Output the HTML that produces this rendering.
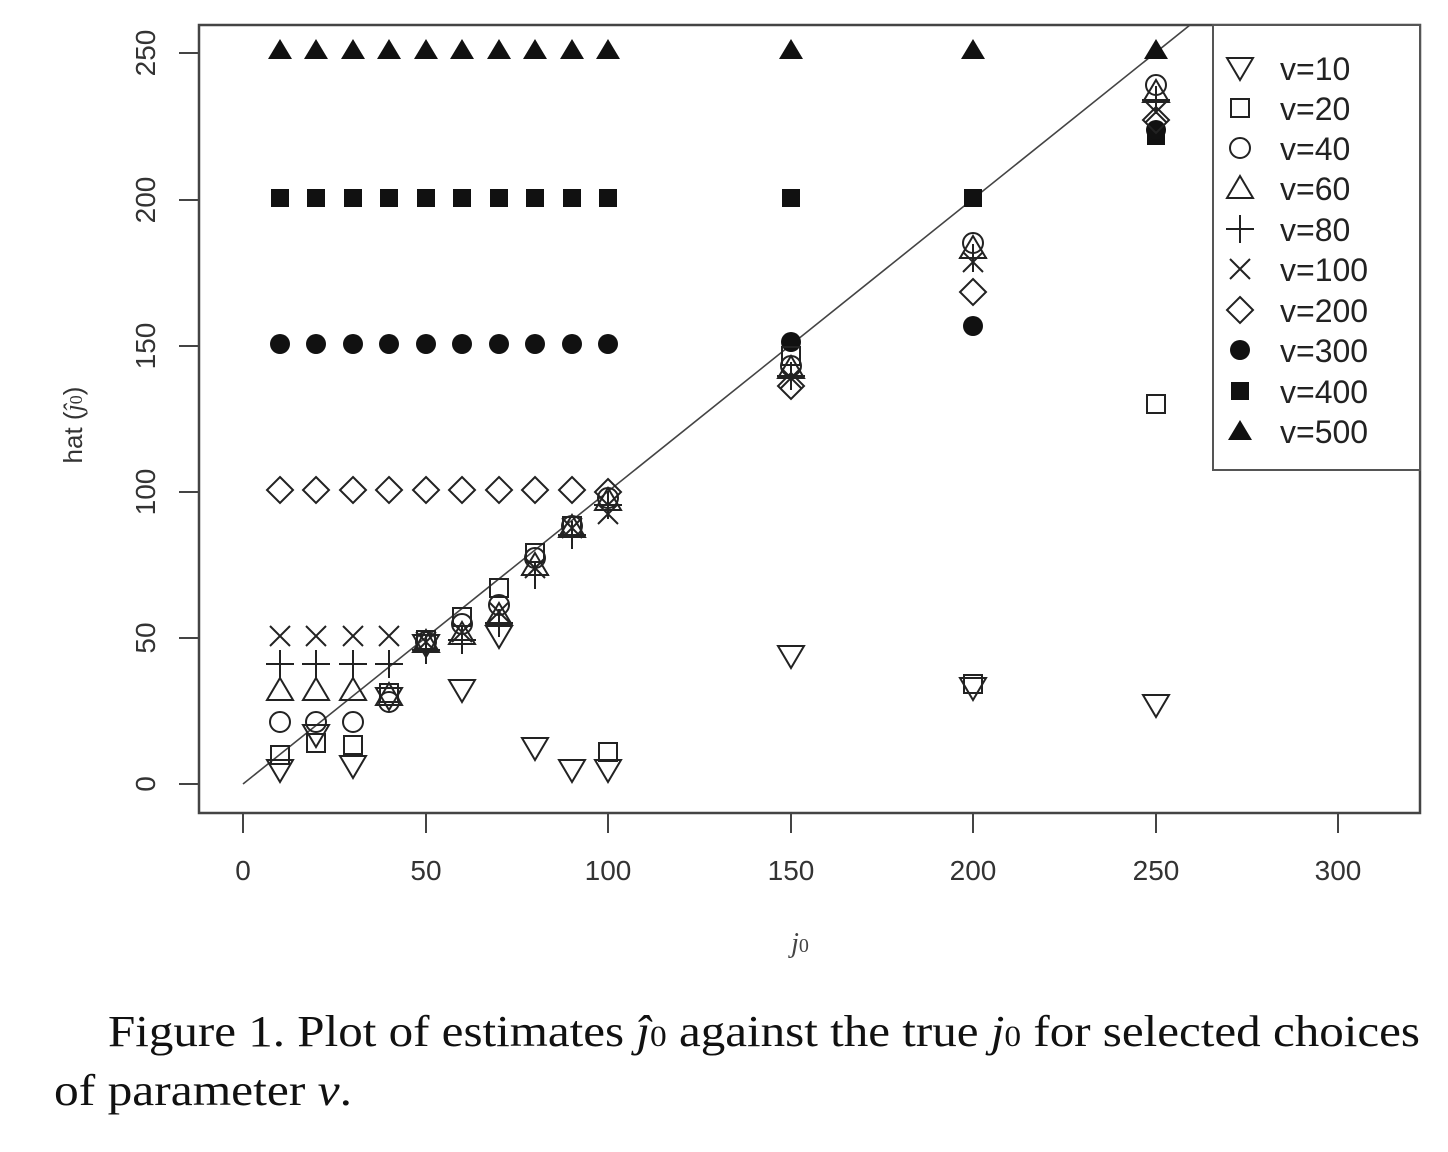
<!DOCTYPE html>
<html><head><meta charset="utf-8"><style>
html,body{margin:0;padding:0;background:#fff;}
svg{display:block;}
</style></head><body>
<svg width="1448" height="1152" viewBox="0 0 1448 1152" xmlns="http://www.w3.org/2000/svg">
<defs>
<g id="tD"><polygon points="-13,-10 13,-10 0,12" fill="none" stroke="#222" stroke-width="2"/></g>
<g id="sq"><rect x="-9" y="-9" width="18" height="18" fill="none" stroke="#222" stroke-width="2"/></g>
<g id="ci"><circle r="10" fill="none" stroke="#222" stroke-width="2"/></g>
<g id="tU"><polygon points="0,-12 13,10 -13,10" fill="none" stroke="#222" stroke-width="2"/></g>
<g id="pl"><path d="M-14,0H14M0,-14V14" stroke="#222" stroke-width="2"/></g>
<g id="xx"><path d="M-10,-10L10,10M-10,10L10,-10" stroke="#222" stroke-width="2"/></g>
<g id="di"><polygon points="0,-13 13,0 0,13 -13,0" fill="none" stroke="#222" stroke-width="2"/></g>
<g id="fc"><circle r="10" fill="#111"/></g>
<g id="fs"><rect x="-9" y="-9" width="18" height="18" fill="#111"/></g>
<g id="ft"><polygon points="0,-11 12,9 -12,9" fill="#111"/></g>
</defs>
<rect x="199" y="25" width="1221" height="788" fill="none" stroke="#444" stroke-width="2.5"/>
<g stroke="#444" stroke-width="2">
<path d="M243,813V833M426,813V833M608,813V833M791,813V833M973,813V833M1156,813V833M1338,813V833"/>
<path d="M179,784H199M179,638H199M179,492H199M179,346H199M179,200H199M179,53H199"/>
</g>
<g font-family="Liberation Sans, sans-serif" font-size="28" fill="#333" text-anchor="middle">
<text x="243" y="880">0</text><text x="426" y="880">50</text><text x="608" y="880">100</text>
<text x="791" y="880">150</text><text x="973" y="880">200</text><text x="1156" y="880">250</text><text x="1338" y="880">300</text>
<text transform="translate(155,784) rotate(-90)">0</text>
<text transform="translate(155,638) rotate(-90)">50</text>
<text transform="translate(155,492) rotate(-90)">100</text>
<text transform="translate(155,346) rotate(-90)">150</text>
<text transform="translate(155,200) rotate(-90)">200</text>
<text transform="translate(155,53) rotate(-90)">250</text>
<text transform="translate(82,425) rotate(-90)" font-size="26">hat (<tspan font-family="Liberation Serif, serif" font-style="italic">ĵ</tspan><tspan font-family="Liberation Serif, serif" font-size="18">0</tspan>)</text>
</g>
<text x="800" y="952" font-family="Liberation Serif, serif" font-style="italic" font-size="28" fill="#444" text-anchor="middle">j<tspan font-style="normal" font-size="20">0</tspan></text>
<line x1="243" y1="784" x2="1190" y2="25" stroke="#444" stroke-width="1.6"/>
<g>
<use href="#ft" x="280" y="50"/><use href="#ft" x="316" y="50"/><use href="#ft" x="353" y="50"/><use href="#ft" x="389" y="50"/><use href="#ft" x="426" y="50"/><use href="#ft" x="462" y="50"/><use href="#ft" x="499" y="50"/><use href="#ft" x="535" y="50"/><use href="#ft" x="572" y="50"/><use href="#ft" x="608" y="50"/><use href="#ft" x="791" y="50"/><use href="#ft" x="973" y="50"/><use href="#ft" x="1156" y="50"/>
<use href="#fs" x="280" y="198"/><use href="#fs" x="316" y="198"/><use href="#fs" x="353" y="198"/><use href="#fs" x="389" y="198"/><use href="#fs" x="426" y="198"/><use href="#fs" x="462" y="198"/><use href="#fs" x="499" y="198"/><use href="#fs" x="535" y="198"/><use href="#fs" x="572" y="198"/><use href="#fs" x="608" y="198"/><use href="#fs" x="791" y="198"/><use href="#fs" x="973" y="198"/><use href="#fs" x="1156" y="136"/>
<use href="#fc" x="280" y="344"/><use href="#fc" x="316" y="344"/><use href="#fc" x="353" y="344"/><use href="#fc" x="389" y="344"/><use href="#fc" x="426" y="344"/><use href="#fc" x="462" y="344"/><use href="#fc" x="499" y="344"/><use href="#fc" x="535" y="344"/><use href="#fc" x="572" y="344"/><use href="#fc" x="608" y="344"/><use href="#fc" x="791" y="342"/><use href="#fc" x="973" y="326"/><use href="#fc" x="1156" y="130"/>
<use href="#di" x="280" y="490"/><use href="#di" x="316" y="490"/><use href="#di" x="353" y="490"/><use href="#di" x="389" y="490"/><use href="#di" x="426" y="490"/><use href="#di" x="462" y="490"/><use href="#di" x="499" y="490"/><use href="#di" x="535" y="490"/><use href="#di" x="572" y="490"/><use href="#di" x="608" y="492"/><use href="#di" x="791" y="386"/><use href="#di" x="973" y="292"/><use href="#di" x="1156" y="120"/>
<use href="#xx" x="280" y="636"/><use href="#xx" x="316" y="636"/><use href="#xx" x="353" y="636"/><use href="#xx" x="389" y="636"/>
<use href="#pl" x="280" y="664"/><use href="#pl" x="316" y="664"/><use href="#pl" x="353" y="664"/><use href="#pl" x="389" y="664"/>
<use href="#tU" x="280" y="690"/><use href="#tU" x="316" y="690"/><use href="#tU" x="353" y="690"/>
<use href="#ci" x="280" y="722"/><use href="#ci" x="316" y="722"/><use href="#ci" x="353" y="722"/>
<use href="#sq" x="280" y="755"/><use href="#sq" x="316" y="743"/><use href="#sq" x="353" y="745"/>
<use href="#tD" x="280" y="770"/><use href="#tD" x="316" y="735"/><use href="#tD" x="353" y="766"/>
<use href="#ci" x="389" y="702"/><use href="#tU" x="389" y="695"/><use href="#sq" x="389" y="693"/><use href="#tD" x="389" y="698"/>
<use href="#ci" x="426" y="642"/><use href="#tU" x="426" y="642"/><use href="#sq" x="426" y="640"/><use href="#pl" x="426" y="650"/><use href="#xx" x="426" y="642"/><use href="#tD" x="426" y="645"/>
<use href="#sq" x="462" y="617"/><use href="#ci" x="462" y="624"/><use href="#tU" x="462" y="634"/><use href="#pl" x="462" y="640"/><use href="#xx" x="462" y="632"/><use href="#tD" x="462" y="690"/>
<use href="#sq" x="499" y="588"/><use href="#ci" x="499" y="605"/><use href="#tU" x="499" y="615"/><use href="#pl" x="499" y="623"/><use href="#xx" x="499" y="612"/><use href="#tD" x="499" y="636"/>
<use href="#sq" x="535" y="553"/><use href="#ci" x="535" y="558"/><use href="#tU" x="535" y="565"/><use href="#pl" x="535" y="575"/><use href="#xx" x="535" y="568"/><use href="#tD" x="535" y="748"/>
<use href="#sq" x="572" y="526"/><use href="#ci" x="572" y="526"/><use href="#tU" x="572" y="527"/><use href="#pl" x="572" y="535"/><use href="#xx" x="572" y="528"/><use href="#tD" x="572" y="770"/>
<use href="#ci" x="608" y="498"/><use href="#tU" x="608" y="500"/><use href="#pl" x="608" y="505"/><use href="#xx" x="608" y="514"/><use href="#sq" x="608" y="752"/><use href="#tD" x="608" y="770"/>
<use href="#sq" x="791" y="356"/><use href="#ci" x="791" y="366"/><use href="#tU" x="791" y="368"/><use href="#pl" x="791" y="376"/><use href="#xx" x="791" y="378"/><use href="#tD" x="791" y="656"/>
<use href="#ci" x="973" y="243"/><use href="#tU" x="973" y="248"/><use href="#pl" x="973" y="258"/><use href="#xx" x="973" y="262"/><use href="#sq" x="973" y="684"/><use href="#tD" x="973" y="688"/>
<use href="#ci" x="1156" y="85"/><use href="#tU" x="1156" y="92"/><use href="#pl" x="1156" y="100"/><use href="#xx" x="1156" y="112"/><use href="#sq" x="1156" y="404"/><use href="#tD" x="1156" y="705"/>
</g>
<rect x="1213" y="25" width="207" height="445" fill="#fff" stroke="#555" stroke-width="2"/>
<g>
<use href="#tD" x="1240" y="68"/><use href="#sq" x="1240" y="108"/><use href="#ci" x="1240" y="148"/><use href="#tU" x="1240" y="188"/><use href="#pl" x="1240" y="229"/><use href="#xx" x="1240" y="269"/><use href="#di" x="1240" y="310"/><use href="#fc" x="1240" y="350"/><use href="#fs" x="1240" y="391"/><use href="#ft" x="1240" y="431"/>
</g>
<g font-family="Liberation Sans, sans-serif" font-size="32" fill="#222">
<text x="1280" y="80">v=10</text><text x="1280" y="120">v=20</text><text x="1280" y="160">v=40</text><text x="1280" y="200">v=60</text><text x="1280" y="241">v=80</text><text x="1280" y="281">v=100</text><text x="1280" y="322">v=200</text><text x="1280" y="362">v=300</text><text x="1280" y="403">v=400</text><text x="1280" y="443">v=500</text>
</g>
<g font-family="Liberation Serif, serif" font-size="44" fill="#111">
<text x="108" y="1046" textLength="1312" lengthAdjust="spacingAndGlyphs">Figure 1.  Plot of estimates <tspan font-style="italic">ĵ</tspan><tspan font-size="30">0</tspan> against the true <tspan font-style="italic">j</tspan><tspan font-size="30">0</tspan> for selected choices</text>
<text x="54" y="1105" textLength="298" lengthAdjust="spacingAndGlyphs">of parameter <tspan font-style="italic">ν</tspan>.</text>
</g>
</svg>
</body></html>
